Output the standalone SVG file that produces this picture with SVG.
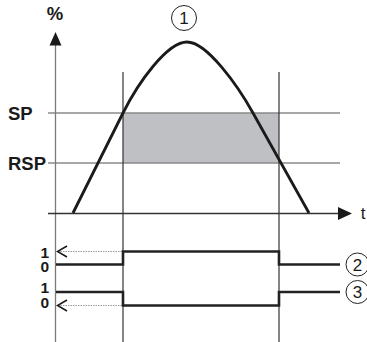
<svg xmlns="http://www.w3.org/2000/svg" width="367" height="342" viewBox="0 0 367 342">
<style>
.lbl{font-family:"Liberation Sans",Arial,sans-serif;font-weight:bold;font-size:18.5px;fill:#1a1a1a}
.dig{font-family:"Liberation Sans",Arial,sans-serif;font-weight:bold;font-size:15.5px;fill:#1a1a1a;text-anchor:end}
.num{font-family:"Liberation Sans",Arial,sans-serif;font-size:17px;fill:#1a1a1a;text-anchor:middle}
.grid{stroke:#8a8a8a;stroke-width:1.5;fill:none}
.vline{stroke:#333;stroke-width:1.2;fill:none}
.sig{stroke:#222;stroke-width:2.6;fill:none}
.dot{stroke:#9a9a9a;stroke-width:1;stroke-dasharray:1.5 1;fill:none}
.chev{stroke:#1a1a1a;stroke-width:1.5;fill:none}
.circ{stroke:#222;stroke-width:1;fill:#fff}
</style>
<rect width="367" height="342" fill="#fff"/>
<g id="band"><rect x="123" y="113" width="156" height="50" fill="#bfc0c3"/></g>
<g id="connectors">
<line class="grid" x1="48" y1="113" x2="340" y2="113"/>
<line class="grid" x1="48" y1="163" x2="340" y2="163"/>
<line x1="55.5" y1="44" x2="55.5" y2="342" stroke="#7a7a7a" stroke-width="1.3"/>
<polygon points="55.5,32 49.5,45.5 61.5,45.5" fill="#1a1a1a"/>
<line x1="48" y1="213.5" x2="340" y2="213.5" stroke="#333" stroke-width="1.3"/>
<polygon points="352,213.5 338,207 338,220" fill="#1a1a1a"/>
<line class="vline" x1="123" y1="72" x2="123" y2="342"/>
<line class="vline" x1="279" y1="72" x2="279" y2="342"/>
<path d="M73,213 L123,113 C138,83 167,42 187,42 C207,42 238,86 253,113 L309,213" stroke="#1a1a1a" stroke-width="2.8" fill="none" stroke-linejoin="round"/>
<line class="dot" x1="58" y1="251.5" x2="123" y2="251.5"/>
<polyline class="chev" points="67,246 57.5,251.5 67,257"/>
<line class="dot" x1="58" y1="305.5" x2="123" y2="305.5"/>
<polyline class="chev" points="67,300 57.5,305.5 67,311"/>
<polyline class="sig" points="56,264.5 123,264.5 123,251.5 279,251.5 279,264.5 340,264.5"/>
<polyline class="sig" points="56,292 123,292 123,305.5 279,305.5 279,292 340,292"/>
</g>
<g id="labels">
<text class="lbl" x="55" y="20" text-anchor="middle">%</text>
<text class="lbl" x="8" y="119.5">SP</text>
<text class="lbl" x="8" y="169.5">RSP</text>
<text class="num" x="363" y="219" text-anchor="start">t</text>
<text class="dig" x="49" y="257.5">1</text>
<text class="dig" x="49" y="272">0</text>
<text class="dig" x="49" y="293">1</text>
<text class="dig" x="49" y="308">0</text>
</g>
<g id="marker1"><circle class="circ" cx="184" cy="18" r="12.5"/><text class="num" x="184" y="24">1</text></g>
<g id="marker2"><circle class="circ" cx="357.5" cy="264.5" r="11.5"/><text class="num" x="357.5" y="270.5">2</text></g>
<g id="marker3"><circle class="circ" cx="357.5" cy="292" r="11.5"/><text class="num" x="357.5" y="298">3</text></g>
</svg>
